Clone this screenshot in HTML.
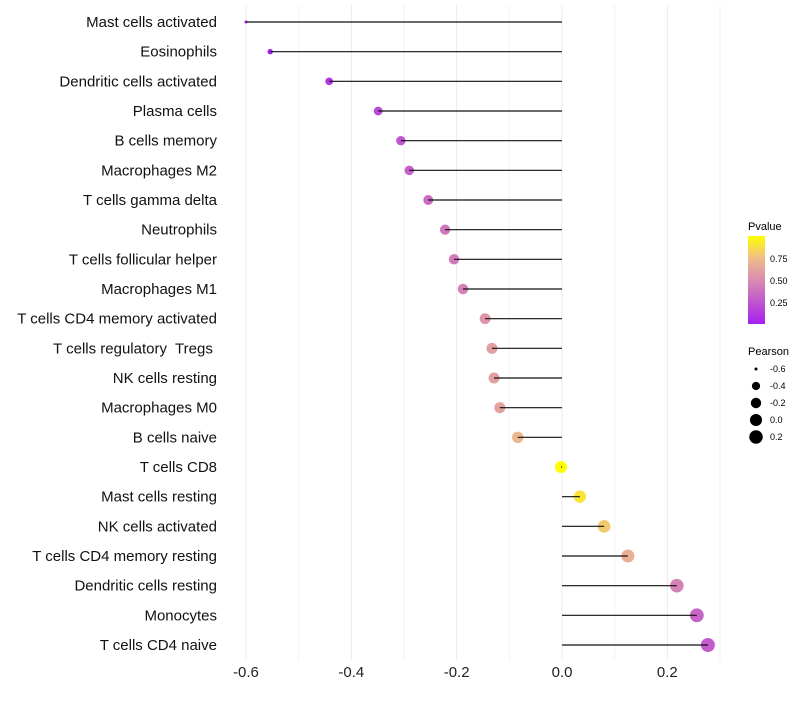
<!DOCTYPE html>
<html><head><meta charset="utf-8"><style>
body{margin:0;background:#fff}
svg{font-family:"Liberation Sans",sans-serif}
text{white-space:pre}
</style></head><body>
<svg width="800" height="700">
<defs><linearGradient id="pg" x1="0" y1="1" x2="0" y2="0">
<stop offset="0" stop-color="#a61ff0"/><stop offset="0.5" stop-color="#d98cb0"/><stop offset="0.75" stop-color="#efbd8a"/><stop offset="1" stop-color="#ffff00"/></linearGradient></defs>
<g id="grid"></g>
<g id="pts"></g>
<g id="marks"></g>
<g id="xaxis"></g>
<g>
<text x="748" y="230" font-size="11">Pvalue</text>
<rect x="748" y="236" width="17" height="88" fill="url(#pg)"/>
<text x="770" y="262" font-size="9">0.75</text>
<text x="770" y="284" font-size="9">0.50</text>
<text x="770" y="306" font-size="9">0.25</text>
</g>
<g id="sizeleg">
<text x="748" y="355" font-size="11">Pearson</text>
</g>
</svg>
<script>
const categories=["Mast cells activated","Eosinophils","Dendritic cells activated","Plasma cells","B cells memory","Macrophages M2","T cells gamma delta","Neutrophils","T cells follicular helper","Macrophages M1","T cells CD4 memory activated","T cells regulatory  Tregs ","NK cells resting","Macrophages M0","B cells naive","T cells CD8","Mast cells resting","NK cells activated","T cells CD4 memory resting","Dendritic cells resting","Monocytes","T cells CD4 naive"];
const pearson=[-0.600,-0.554,-0.442,-0.349,-0.306,-0.290,-0.254,-0.222,-0.205,-0.188,-0.146,-0.133,-0.129,-0.118,-0.084,-0.002,0.034,0.080,0.125,0.218,0.256,0.277];
const pvalue=[0.0,0.03,0.1,0.2,0.25,0.3,0.35,0.4,0.42,0.45,0.55,0.6,0.6,0.62,0.72,1.0,0.9,0.8,0.68,0.45,0.32,0.28];
const xTicks=[-0.6,-0.4,-0.2,0.0,0.2];
const xMinor=[-0.5,-0.3,-0.1,0.1,0.3];
const legendVals=[-0.6,-0.4,-0.2,0.0,0.2];
const NS="http://www.w3.org/2000/svg";
const xs=v=>562+v*526.7;
const ys=i=>22+i*(623/21);
const rs=v=>1.5+5.5*Math.sqrt(Math.max(0,(v+0.6)/0.88));
function lerp(a,b,t){return a.map((x,i)=>Math.round(x+(b[i]-x)*t));}
function col(p){const st=[[0,[166,31,240]],[0.5,[217,140,176]],[0.75,[239,189,138]],[1,[255,255,0]]];
for(let k=0;k<3;k++){if(p<=st[k+1][0]){const t=(p-st[k][0])/(st[k+1][0]-st[k][0]);const c=lerp(st[k][1],st[k+1][1],t);return`rgb(${c})`;}}return"rgb(255,255,0)";}
function mk(tag,at,parent){const e=document.createElementNS(NS,tag);for(const k in at)e.setAttribute(k,at[k]);parent.appendChild(e);return e;}
const grid=document.getElementById('grid'),pts=document.getElementById('pts'),marks=document.getElementById('marks'),xa=document.getElementById('xaxis'),sl=document.getElementById('sizeleg');
xMinor.forEach(v=>{const l=mk('line',{x1:xs(v),x2:xs(v),y1:5,y2:660,stroke:'#f2f2f2','stroke-width':1},grid);

});
xTicks.forEach(v=>{const l=mk('line',{x1:xs(v),x2:xs(v),y1:5,y2:660,stroke:'#ebebeb','stroke-width':1},grid);


const t=mk('text',{x:xs(v),y:677,'font-size':15,'text-anchor':'middle',fill:'#222'},xa);t.textContent=v.toFixed(1);

});
categories.forEach((c,i)=>{const y=ys(i);
const t=mk('text',{x:217,y:y+5,'font-size':15,'text-anchor':'end',fill:'#111'},marks);t.textContent=c;


const d=mk('circle',{cx:xs(pearson[i]),cy:y,r:rs(pearson[i]),fill:col(pvalue[i])},pts);


const l=mk('line',{x1:xs(0),x2:xs(pearson[i]),y1:y,y2:y,stroke:'#111','stroke-width':1.2},marks);

});
legendVals.forEach((v,i)=>{const y=369+i*17;
const d=mk('circle',{cx:756,cy:y,r:rs(v),fill:'#000'},sl);


const t=mk('text',{x:770,y:y+3,'font-size':9},sl);t.textContent=v.toFixed(1);

});
</script>
</body></html>
